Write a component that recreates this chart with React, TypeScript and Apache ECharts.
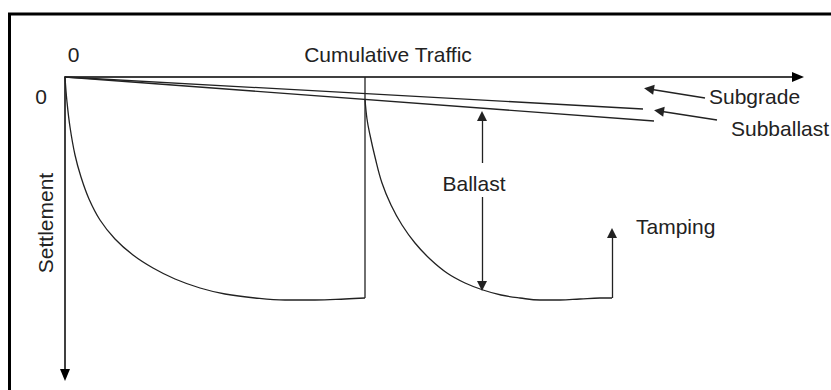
import React, { useEffect, useRef } from "react";
import * as echarts from "echarts";

// Values (x: cumulative traffic, y: settlement, arbitrary units)
const subgradeLine = [[0, 0], [578, 32]];
const subballastLine = [[0, 0], [589, 44]];
const ballastCycle1 = [
  [0, 0], [2, 25], [5, 50], [10, 78], [16, 100], [24, 122], [35, 143], [50, 162],
  [68, 178], [88, 191], [110, 202], [135, 211], [160, 217], [190, 221], [220, 223],
  [250, 223], [280, 222], [300, 221],
];
const tampingReset = [[300, 221], [300, 0]];
const ballastCycle2 = [
  [300, 22], [302, 42], [305, 58], [310, 80], [317, 106], [326, 128], [337, 148],
  [350, 166], [365, 182], [382, 196], [400, 206], [418, 213], [436, 218], [455, 221],
  [475, 223], [495, 223], [515, 222], [535, 221], [547, 221],
];
const tampingArrow = [[547, 221], [547, 156]];
const ballastArrowUp = [[417, 86], [417, 39]];
const ballastArrowDown = [[417, 120], [417, 209]];
const subgradePointer = [[640, 21], [584, 12]];
const subballastPointer = [[652, 43], [594, 34]];
const xTickLabels = ["0"];
const yTickLabels = ["0"];
const xAxisTitle = "Cumulative Traffic";
const yAxisTitle = "Settlement";

const INK = "#222";

export default function App() {
  const ref = useRef<HTMLDivElement>(null);
  useEffect(() => {
    if (!ref.current) return;
    const chart = echarts.init(ref.current, null, { renderer: "svg" });
    const font = { fontFamily: "Liberation Sans, Arial, sans-serif", fontSize: 21, fill: INK };
    const txt = (text: string, x: number, y: number, align = "center", rotation = 0) => ({
      type: "text",
      x,
      y,
      rotation,
      style: { ...font, text, align, verticalAlign: "middle" },
    });
    const curve = (data: number[][], smooth: boolean) => ({
      type: "line",
      data,
      showSymbol: false,
      symbol: "none",
      smooth: smooth ? 0.4 : false,
      lineStyle: { color: INK, width: 1.3 },
      silent: true,
    });
    const arrow = (coords: number[][][]) => ({
      type: "lines",
      coordinateSystem: "cartesian2d",
      symbol: ["none", "triangle"],
      symbolSize: 10,
      lineStyle: { color: INK, width: 1.3, opacity: 1 },
      data: coords.map((c) => ({ coords: c })),
      silent: true,
    });
    chart.setOption({
      animation: false,
      backgroundColor: "#fff",
      grid: { left: 65, top: 77, width: 733, height: 298 },
      xAxis: {
        type: "value",
        min: 0,
        max: 733,
        position: "top",
        axisLine: {
          onZero: false,
          lineStyle: { color: "#000", width: 1.5 },
          symbol: ["none", "triangle"],
          symbolSize: [10, 12],
        },
        axisTick: { show: false },
        axisLabel: { show: false },
        splitLine: { show: false },
      },
      yAxis: {
        type: "value",
        min: 0,
        max: 298,
        inverse: true,
        axisLine: {
          show: true,
          onZero: false,
          lineStyle: { color: "#000", width: 1.5 },
          symbol: ["triangle", "none"],
          symbolSize: [10, 12],
        },
        axisTick: { show: false },
        axisLabel: { show: false },
        splitLine: { show: false },
      },
      series: [
        curve(subgradeLine, false),
        curve(subballastLine, false),
        curve(ballastCycle1, true),
        curve(tampingReset, false),
        curve(ballastCycle2, true),
        arrow([tampingArrow, ballastArrowUp, ballastArrowDown, subgradePointer, subballastPointer]),
      ],
      graphic: [
        {
          type: "rect",
          shape: { x: 9.5, y: 14, width: 900, height: 500 },
          style: { fill: "none", stroke: "#000", lineWidth: 3 },
          silent: true,
        },
        txt(xTickLabels[0], 73.5, 54),
        txt(yTickLabels[0], 41, 96),
        txt(xAxisTitle, 388, 54),
        txt(yAxisTitle, 45, 223, "center", Math.PI / 2),
        txt("Subgrade", 709, 96, "left"),
        txt("Subballast", 731, 128, "left"),
        txt("Ballast", 474, 183),
        txt("Tamping", 636, 226, "left"),
      ],
    });
    return () => chart.dispose();
  }, []);
  return (
    <div
      ref={ref}
      style={{ position: "fixed", left: 0, top: 0, width: 831, height: 390, background: "#fff" }}
    />
  );
}
